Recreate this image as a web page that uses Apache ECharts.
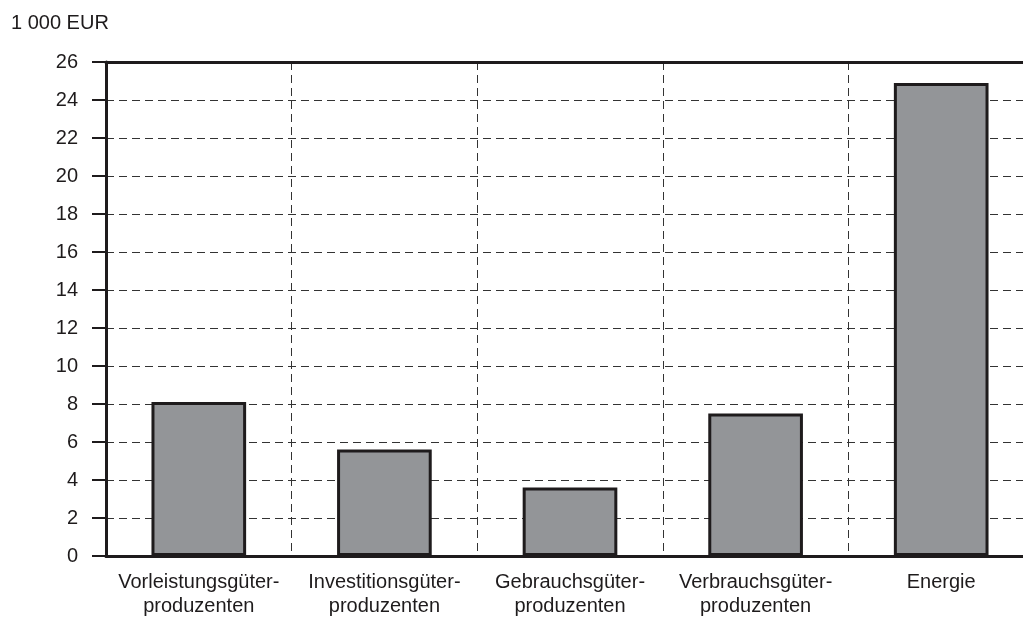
<!DOCTYPE html>
<html>
<head>
<meta charset="utf-8">
<script src="https://cdn.jsdelivr.net/npm/echarts@6/dist/echarts.min.js"></script>
<style>
  html, body { margin: 0; padding: 0; background: #fff; }
  #chart { width: 1023px; height: 619px; }
</style>
</head>
<body>
<div id="chart"></div>
<script>
// Kategorien und Werte (1 000 EUR)
const categories = [
  'Vorleistungsgüter-\nproduzenten',
  'Investitionsgüter-\nproduzenten',
  'Gebrauchsgüter-\nproduzenten',
  'Verbrauchsgüter-\nproduzenten',
  'Energie'
]
const values = [8.1, 5.6, 3.6, 7.5, 24.9]
const yMin = 0
const yMax = 26
const yStep = 2

const chart = echarts.init(document.getElementById('chart'))
const textColor = '#1e1b1c'
const font = 'Liberation Sans, Arial, sans-serif'

const option = {
  animation: false,
  textStyle: { fontFamily: font },
  title: {
    text: '1 000 EUR',
    left: 6,
    top: 8,
    textStyle: { fontSize: 20, fontWeight: 'normal', color: textColor, fontFamily: font }
  },
  // rechter Rand liegt ausserhalb des Bildes
  grid: { left: 106, right: -11, top: 62, bottom: 63, outerBoundsMode: 'none' },
  xAxis: [
    {
      type: 'category',
      data: categories,
      axisLine: { lineStyle: { color: textColor, width: 3 } },
      axisTick: { show: false },
      axisLabel: { color: textColor, fontSize: 20, lineHeight: 24, margin: 14, interval: 0 },
      splitLine: { show: true, lineStyle: { color: '#333', width: 1, type: [8, 5] } }
    },
    {
      // obere Rahmenlinie
      type: 'category',
      position: 'top',
      data: categories,
      axisLine: { show: true, lineStyle: { color: textColor, width: 3 } },
      axisTick: { show: false },
      axisLabel: { show: false }
    }
  ],
  yAxis: {
    type: 'value',
    min: yMin,
    max: yMax,
    interval: yStep,
    axisLine: { show: true, lineStyle: { color: textColor, width: 3 } },
    axisTick: { show: true, length: 14, lineStyle: { color: textColor, width: 2 } },
    axisLabel: { color: textColor, fontSize: 20, margin: 28 },
    splitLine: { show: true, lineStyle: { color: '#333', width: 1, type: [8, 5] } }
  },
  series: [
    {
      type: 'bar',
      data: values,
      barWidth: '51%',
      itemStyle: { color: '#939598', borderColor: textColor, borderWidth: 3 }
    }
  ]
}
chart.setOption(option)
</script>
</body>
</html>
